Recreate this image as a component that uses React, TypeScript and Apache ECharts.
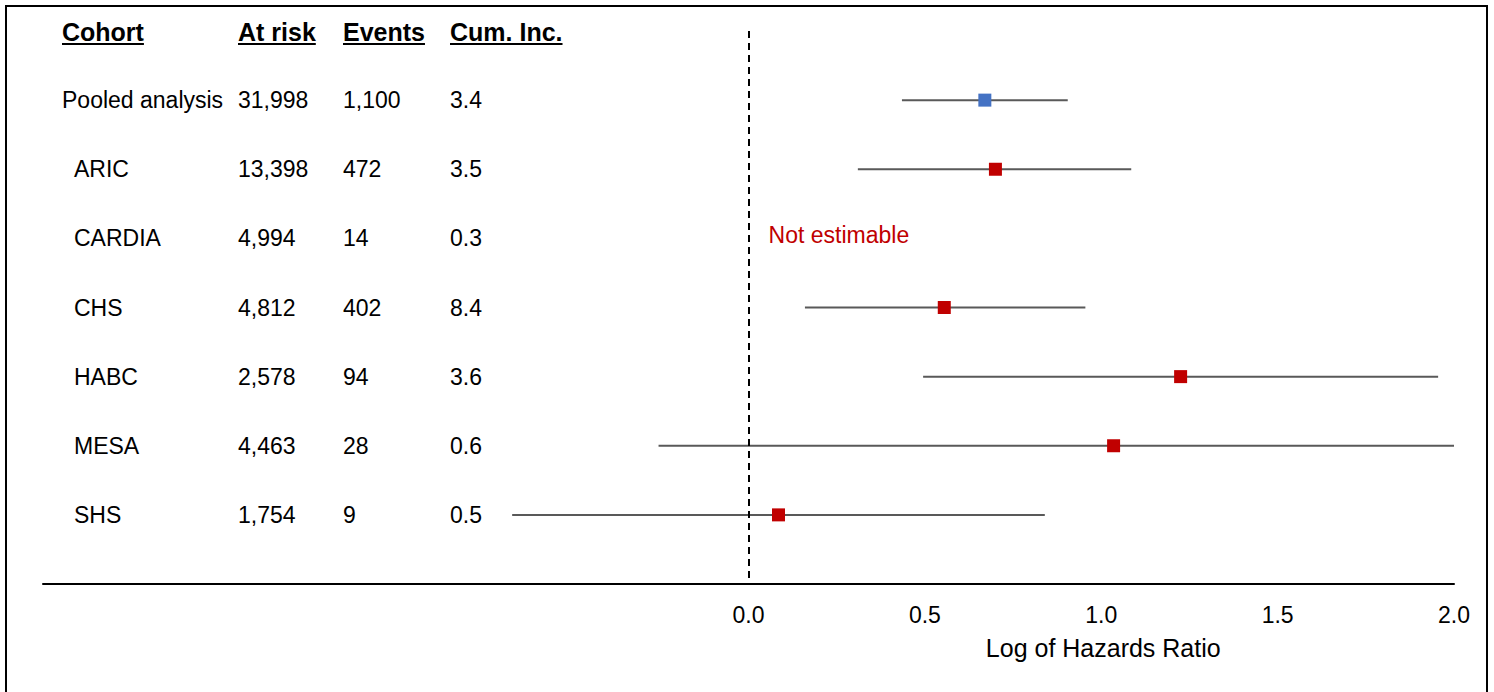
import React, { useEffect, useRef } from "react";
import * as echarts from "echarts";

const cohorts = ["Pooled analysis", "ARIC", "CARDIA", "CHS", "HABC", "MESA", "SHS"];
const atRisk = ["31,998", "13,398", "4,994", "4,812", "2,578", "4,463", "1,754"];
const events = ["1,100", "472", "14", "402", "94", "28", "9"];
const cumInc = ["3.4", "3.5", "0.3", "8.4", "3.6", "0.6", "0.5"];
const logHR: (number | null)[] = [0.67, 0.7, null, 0.555, 1.225, 1.035, 0.085];
const lower: (number | null)[] = [0.435, 0.31, null, 0.16, 0.495, -0.255, -0.67];
const upper: (number | null)[] = [0.905, 1.085, null, 0.955, 1.955, 2.0, 0.84];
const headers = ["Cohort", "At risk", "Events", "Cum. Inc."];
const notEstimableText = "Not estimable";
const axisName = "Log of Hazards Ratio";

const FONT = "'Liberation Sans', Arial, sans-serif";

function measure(text: string, font: string): number {
  const c = document.createElement("canvas").getContext("2d");
  if (!c) return text.length * 12;
  c.font = font;
  return c.measureText(text).width;
}

export default function App() {
  const ref = useRef<HTMLDivElement>(null);
  useEffect(() => {
    if (!ref.current) return;
    const chart = echarts.init(ref.current, null, { renderer: "svg" });

    const ciData = cohorts
      .map((_, i) => (lower[i] !== null && upper[i] !== null ? [lower[i], upper[i], i] : null))
      .filter((d) => d !== null);
    const pooledData = logHR.map((v, i) => (i === 0 && v !== null ? [v, i] : null)).filter((d) => d !== null);
    const cohortData = logHR.map((v, i) => (i > 0 && v !== null ? [v, i] : null)).filter((d) => d !== null);

    chart.setOption({
      animation: false,
      grid: { left: 43, right: 40, top: 31, bottom: 108 },
      xAxis: {
        type: "value",
        min: -2,
        max: 2,
        interval: 0.5,
        axisLine: { onZero: false, lineStyle: { color: "#000", width: 2 } },
        axisTick: { show: false },
        splitLine: { show: false },
        axisLabel: {
          formatter: (v: number) => (v >= 0 ? v.toFixed(1) : ""),
          fontSize: 23,
          color: "#000",
          fontFamily: FONT,
          margin: 19,
        },
      },
      yAxis: { type: "value", min: -1, max: 7, inverse: true, show: false },
      series: [
        {
          type: "custom",
          clip: true,
          data: ciData,
          renderItem: (params: any, api: any) => {
            const lo = api.coord([api.value(0), api.value(2)]);
            const hi = api.coord([api.value(1), api.value(2)]);
            return {
              type: "line",
              shape: { x1: lo[0], y1: lo[1], x2: hi[0], y2: hi[1] },
              style: { stroke: "#595959", lineWidth: 2 },
            };
          },
          markLine: {
            silent: true,
            symbol: ["none", "none"],
            label: { show: false },
            lineStyle: { type: [7, 5], color: "#000", width: 2 },
            data: [{ xAxis: 0 }],
          },
          z: 2,
        },
        {
          type: "scatter",
          symbol: "rect",
          symbolSize: 13,
          data: pooledData,
          itemStyle: { color: "#4472C4", opacity: 1 },
          z: 5,
        },
        {
          type: "scatter",
          symbol: "rect",
          symbolSize: 13,
          data: cohortData,
          itemStyle: { color: "#C00000", opacity: 1 },
          z: 5,
        },
      ],
    });

    const colX = [62, 238, 343, 450];
    const headerY = 32;
    const headFont = `bold 25px ${FONT}`;
    const graphics: any[] = [];
    graphics.push({
      type: "rect",
      shape: { x: 6, y: 6, width: 1481, height: 720 },
      style: { fill: "none", stroke: "#000", lineWidth: 2 },
      silent: true,
    });
    headers.forEach((h, k) => {
      const w = measure(h, headFont);
      graphics.push({
        type: "text",
        x: colX[k],
        y: headerY,
        style: { text: h, font: headFont, fill: "#000", verticalAlign: "middle", align: "left" },
      });
      graphics.push({
        type: "line",
        shape: { x1: colX[k], y1: headerY + 12, x2: colX[k] + w, y2: headerY + 12 },
        style: { stroke: "#000", lineWidth: 2 },
      });
    });
    const cols = [cohorts, atRisk, events, cumInc];
    cohorts.forEach((_, i) => {
      const y = chart.convertToPixel({ yAxisIndex: 0 }, i) as number;
      cols.forEach((col, k) => {
        const x = k === 0 && i > 0 ? colX[0] + 12 : colX[k];
        graphics.push({
          type: "text",
          x,
          y,
          style: { text: col[i], font: `23px ${FONT}`, fill: "#000", verticalAlign: "middle", align: "left" },
        });
      });
      if (logHR[i] === null) {
        const p = chart.convertToPixel({ xAxisIndex: 0, yAxisIndex: 0 }, [0.057, i]) as number[];
        graphics.push({
          type: "text",
          x: p[0],
          y: p[1] - 3,
          style: { text: notEstimableText, font: `23px ${FONT}`, fill: "#C00000", verticalAlign: "middle", align: "left" },
        });
      }
    });
    const nameX = chart.convertToPixel({ xAxisIndex: 0 }, 1) as number;
    graphics.push({
      type: "text",
      x: nameX + 2,
      y: 648,
      style: { text: axisName, font: `25px ${FONT}`, fill: "#000", verticalAlign: "middle", align: "center" },
    });
    chart.setOption({ graphic: graphics });

    return () => chart.dispose();
  }, []);
  return (
    <div
      ref={ref}
      style={{ position: "absolute", left: 0, top: 0, width: 1494, height: 692, background: "#fff" }}
    />
  );
}
